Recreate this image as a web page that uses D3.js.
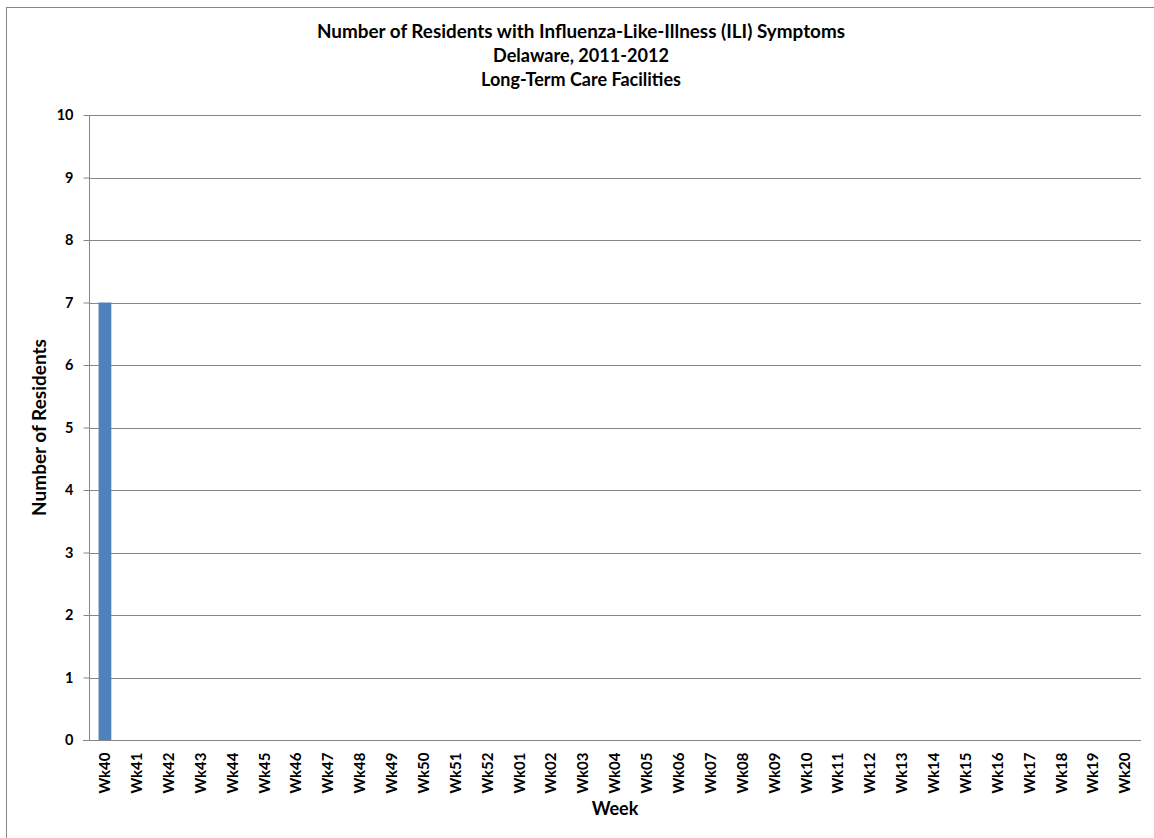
<!DOCTYPE html>
<html><head><meta charset="utf-8">
<script src="https://cdn.jsdelivr.net/npm/d3@7"></script>
<style>
html,body{margin:0;padding:0;background:#fff;}
svg{display:block;}
text{font-family:Lato, "Liberation Sans", sans-serif;font-weight:bold;fill:#000;}
</style></head>
<body>
<script>
const weeks = ["Wk40","Wk41","Wk42","Wk43","Wk44","Wk45","Wk46","Wk47","Wk48","Wk49","Wk50","Wk51","Wk52",
  "Wk01","Wk02","Wk03","Wk04","Wk05","Wk06","Wk07","Wk08","Wk09","Wk10","Wk11","Wk12","Wk13","Wk14","Wk15","Wk16","Wk17","Wk18","Wk19","Wk20"];
const residents = [7,0,0,0,0,0,0,0,0,0,0,0,0,0,0,0,0,0,0,0,0,0,0,0,0,0,0,0,0,0,0,0,0];
const yTicks = [0,1,2,3,4,5,6,7,8,9,10];
const titleLines = ["Number of Residents with Influenza-Like-Illness (ILI) Symptoms","Delaware, 2011-2012","Long-Term Care Facilities"];

const W = 1154, H = 838;
const svg = d3.select("body").append("svg").attr("width", W).attr("height", H);

svg.append("rect").attr("x",6.5).attr("y",7.5).attr("width",1160).attr("height",850)
  .attr("fill","#fff").attr("stroke","#868686").attr("stroke-width",1);

const L = 89, R = 1141, T = 115, B = 740;
const x = d3.scaleBand().domain(weeks).range([L, R]).paddingInner(0.6).paddingOuter(0.3);
const y = d3.scaleLinear().domain([0,10]).range([B, T]);

// gridlines
svg.append("g").selectAll("line").data(yTicks.filter(d=>d>0)).join("line")
  .attr("x1", L).attr("x2", R).attr("y1", d=>Math.round(y(d))+0.5).attr("y2", d=>Math.round(y(d))+0.5)
  .attr("stroke","#868686").attr("stroke-width",1);

// bars
svg.append("g").selectAll("rect").data(weeks.map((w,i)=>({w, v:residents[i]}))).join("rect")
  .attr("x", d=>x(d.w)).attr("width", x.bandwidth())
  .attr("y", d=>y(d.v)).attr("height", d=>y(0)-y(d.v))
  .attr("fill","#4F81BD");

// y axis
const yAxis = svg.append("g").attr("transform",`translate(${L+0.5},0)`)
  .call(d3.axisLeft(y).tickValues(yTicks).tickSize(6).tickPadding(10).tickFormat(d3.format("d")));
yAxis.select(".domain").attr("stroke","#868686").attr("d",`M0,${T}V${B}`);
yAxis.selectAll(".tick line").attr("stroke","#868686");
yAxis.selectAll(".tick text").attr("font-size","14.5px").attr("font-family","Lato").attr("font-weight","bold").attr("fill","#000");

// x axis
const xAxis = svg.append("g").attr("transform",`translate(0,${B+0.5})`)
  .call(d3.axisBottom(x).tickSize(0).tickPadding(0));
xAxis.select(".domain").attr("stroke","#868686").attr("d",`M${L-6},0H${R}`);
xAxis.selectAll(".tick text")
  .attr("font-size","15px").attr("font-family","Lato").attr("font-weight","bold").attr("fill","#000")
  .attr("transform","rotate(-90)").attr("text-anchor","end").attr("x",-12).attr("y",0).attr("dy","0.35em");

// titles
const titleLen = [528, 176, null];
svg.append("g").selectAll("text").data(titleLines).join("text")
  .attr("x", 581).attr("y", (d,i)=>38 + i*24).attr("text-anchor","middle")
  .attr("font-size","18px")
  .each(function(d,i){ if (titleLen[i]) d3.select(this).attr("textLength", titleLen[i]).attr("lengthAdjust","spacingAndGlyphs"); })
  .text(d=>d);

svg.append("text").attr("x", (L+R)/2).attr("y", 815).attr("text-anchor","middle")
  .attr("font-size","18px").text("Week");

svg.append("text").attr("transform",`translate(46,${(T+B)/2}) rotate(-90)`).attr("text-anchor","middle")
  .attr("font-size","19px").text("Number of Residents");
</script>
</body></html>
